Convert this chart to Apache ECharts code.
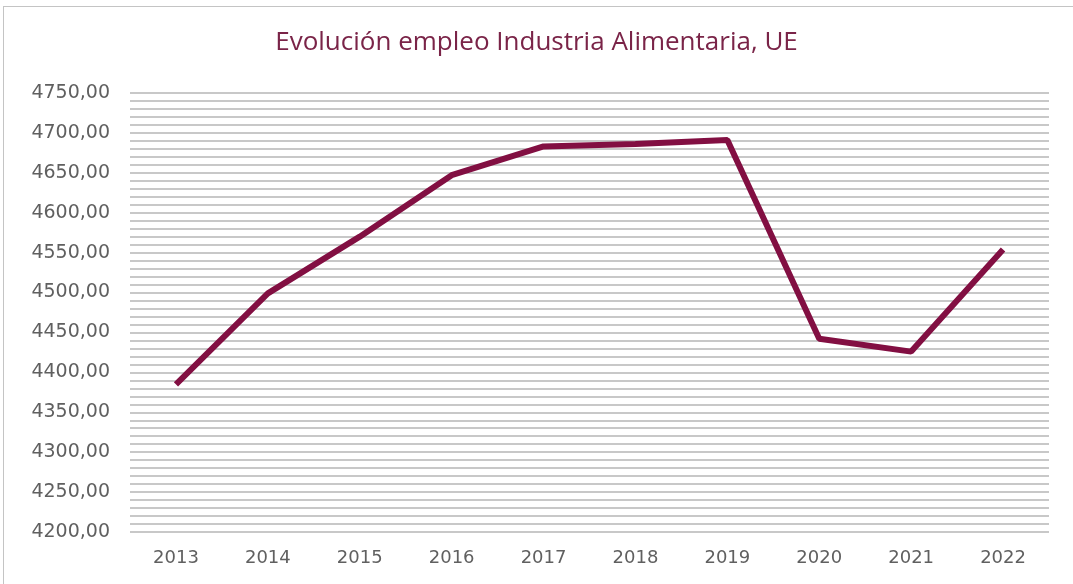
<!DOCTYPE html>
<html>
<head>
<meta charset="utf-8">
<script src="https://cdn.jsdelivr.net/npm/echarts@6/dist/echarts.min.js"></script>
<style>
  html, body { margin: 0; padding: 0; background: #fff; }
  #frame { position: absolute; left: 3px; top: 6px; width: 1080px; height: 590px; border: 1.5px solid #c4c4c4; }
  #chart { position: absolute; left: 0; top: 0; width: 1073px; height: 584px; }
</style>
</head>
<body>
<div id="frame"></div>
<div id="chart"></div>
<script>
// datos
var years = ["2013", "2014", "2015", "2016", "2017", "2018", "2019", "2020", "2021", "2022"];
var empleo = [4385, 4499, 4570, 4647, 4683, 4686, 4691, 4442, 4426, 4554];
var yMin = 4200;
var yMax = 4750;

var chart = echarts.init(document.getElementById("chart"));

var option = {
  animation: false,
  title: {
    text: "Evolución empleo Industria Alimentaria, UE",
    left: "center",
    top: 25,
    textStyle: {
      color: "#7a2448",
      fontSize: 26,
      fontWeight: "normal",
      fontFamily: "Open Sans"
    }
  },
  grid: { left: 130, right: 24, top: 93, bottom: 52 },
  xAxis: {
    type: "category",
    data: years,
    axisLine: { show: false },
    axisTick: { show: false },
    axisLabel: { color: "#606060", fontSize: 18, margin: 17, fontFamily: "DejaVu Sans" }
  },
  yAxis: {
    type: "value",
    min: yMin,
    max: yMax,
    interval: 50,
    axisLine: { show: false },
    axisTick: { show: false },
    axisLabel: {
      color: "#606060",
      fontSize: 19,
      margin: 20,
      padding: [0, 0, 12, 0],
      fontFamily: "DejaVu Sans",
      formatter: function (v) { return v.toFixed(2).replace(".", ","); }
    },
    splitLine: { lineStyle: { color: "#c8c8c8", width: 2 } },
    minorTick: { show: false, splitNumber: 5 },
    minorSplitLine: { show: true, lineStyle: { color: "#c8c8c8", width: 2 } }
  },
  series: [
    {
      type: "line",
      data: empleo,
      symbol: "none",
      lineStyle: { color: "#820f42", width: 6 },
      itemStyle: { color: "#820f42" }
    }
  ]
};

chart.setOption(option);
</script>
</body>
</html>
